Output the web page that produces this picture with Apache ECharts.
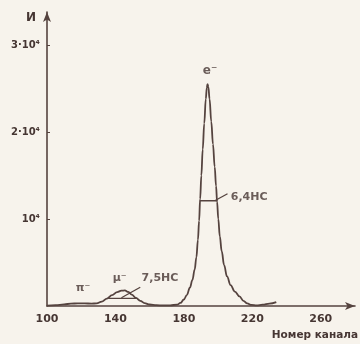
<!DOCTYPE html>
<html>
<head>
<meta charset="utf-8">
<script src="https://cdn.jsdelivr.net/npm/echarts@6/dist/echarts.min.js"></script>
<style>
html,body{margin:0;padding:0;background:#f7f3ec;}
#c{width:360px;height:344px;}
</style>
</head>
<body>
<div id="c"></div>
<script>
// Spectrum: channel number vs counts
const channels = [100, 105, 110, 114, 118, 122, 126, 129, 132, 135, 138, 141, 143.5, 145.5, 147.5, 149.5, 152, 154.5, 157, 160, 164, 168, 172, 176,
  178, 180, 181.7, 183.5, 185, 186.3, 187.3, 188.2, 188.9, 189.5, 190.2, 191.0, 191.9, 192.8, 193.4, 193.8, 194.3, 195.0, 196.0, 197.0, 198.0, 198.8,
  199.4, 200.1, 201.0, 202.1, 203.5, 205.2, 207.3, 209.8, 212.5, 214.8, 217.0, 219.5, 222.5, 226, 230, 234];
const counts = [40, 90, 190, 270, 300, 300, 280, 300, 500, 850, 1250, 1600, 1760, 1790, 1620, 1300, 930, 600, 330, 170, 90, 70, 80, 150,
  350, 750, 1260, 2100, 3000, 4200, 5600, 7600, 9800, 12300, 15000, 18000, 21000, 23800, 25100, 25500, 25200, 23800, 21200, 18600, 16000, 13800,
  12000, 10000, 8000, 6300, 4700, 3400, 2400, 1650, 1100, 600, 300, 120, 70, 150, 280, 450];

const xTicks = [100, 140, 180, 220, 260];
const xTickLabels = ['100', '140', '180', '220', '260'];
const yTicks = [10000, 20000, 30000];
const yTickLabels = ['10⁴', '2·10⁴', '3·10⁴'];

// Half-width markers and their leader lines (channel, counts)
const eHalfWidth = [[189.3, 12100], [199.4, 12100]];
const eLeader = [[198.0, 12100], [205.5, 12900]];
const muHalfWidth = [[135.8, 880], [152.5, 880]];
const muLeader = [[143.5, 950], [154.5, 2150]];

// Text annotations anchored in data coordinates
const noteAnchors = [[195.3, 27000], [142.5, 3200], [121, 2000], [207.4, 12500], [155.3, 3200]];
const noteTexts = ['e⁻', 'μ⁻', 'π⁻', '6,4НС', '7,5НС'];

const ink = '#55433f';
const textInk = '#463633';
const font = 'DejaVu Sans';

const chart = echarts.init(document.getElementById('c'), null, {renderer: 'canvas'});

const curve = channels.map((c, i) => [c, counts[i]]);
const noteData = noteAnchors.map((p, i) => ({
  value: p, name: noteTexts[i],
  label: {align: i >= 3 ? 'left' : 'center', fontSize: i === 0 ? 12 : 11}
}));

chart.setOption({
  backgroundColor: '#f7f3ec',
  animation: false,
  grid: {left: 47, right: 5, top: 12, bottom: 38},
  xAxis: {
    type: 'value', min: 100, max: 280, interval: 40,
    axisLine: {show: true, lineStyle: {color: ink, width: 1.6}, symbol: ['none', 'arrow'], symbolSize: [6, 10]},
    axisTick: {show: false},
    splitLine: {show: false},
    axisLabel: {
      customValues: xTicks,
      formatter: v => xTickLabels[xTicks.indexOf(v)] || '',
      color: textInk, fontFamily: font, fontSize: 11, fontWeight: 'bold', margin: 8
    }
  },
  yAxis: {
    type: 'value', min: 0, max: 33800,
    axisLine: {show: true, lineStyle: {color: ink, width: 1.6}, symbol: ['none', 'arrow'], symbolSize: [6, 10]},
    axisTick: {show: true, customValues: yTicks, inside: true, length: 3, lineStyle: {color: ink}},
    splitLine: {show: false},
    axisLabel: {
      customValues: yTicks,
      formatter: v => yTickLabels[yTicks.indexOf(v)] || '',
      color: textInk, fontFamily: font, fontSize: 10, fontWeight: 'bold', margin: 7
    }
  },
  graphic: [
    {type: 'text', left: 26, top: 12, style: {text: 'И', fill: textInk, font: 'bold 12px DejaVu Sans'}},
    {type: 'text', right: 2, top: 330, style: {text: 'Номер канала', fill: textInk, font: 'bold 10.5px DejaVu Sans'}}
  ],
  series: [
    {
      type: 'line', data: curve, showSymbol: false, smooth: 0.4, smoothMonotone: 'x',
      lineStyle: {color: ink, width: 1.8}, z: 3
    },
    {type: 'line', data: eHalfWidth, showSymbol: false, lineStyle: {color: ink, width: 1.3}},
    {type: 'line', data: eLeader, showSymbol: false, lineStyle: {color: ink, width: 1.3}},
    {type: 'line', data: muHalfWidth, showSymbol: false, lineStyle: {color: ink, width: 1.3}},
    {type: 'line', data: muLeader, showSymbol: false, lineStyle: {color: ink, width: 1.3}},
    {
      type: 'scatter', data: noteData, symbolSize: 0,
      label: {show: true, position: 'inside', formatter: p => p.name, color: textInk, fontFamily: font, fontWeight: 'bold', verticalAlign: 'middle'}
    }
  ]
});
</script>
</body>
</html>
